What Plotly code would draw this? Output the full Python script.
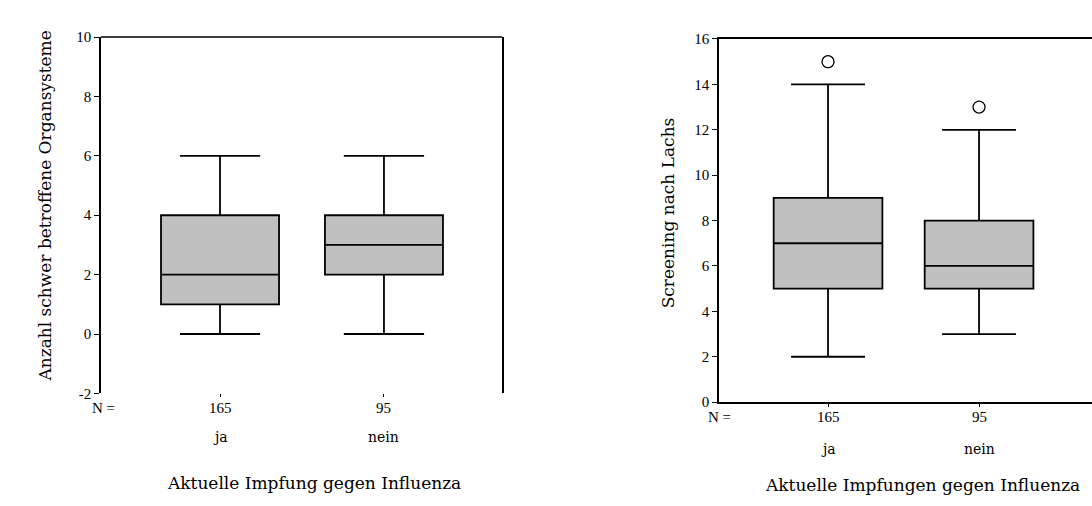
import plotly.graph_objects as go

W, H = 1092, 506

# ---- data ----
categories = ["ja", "nein"]
n_counts = [165, 95]

# left chart: Anzahl schwer betroffene Organsysteme
left_low = [0, 0]
left_q1 = [1, 2]
left_median = [2, 3]
left_q3 = [4, 4]
left_high = [6, 6]

# right chart: Screening nach Lachs
right_low = [2, 3]
right_q1 = [5, 5]
right_median = [7, 6]
right_q3 = [9, 8]
right_high = [14, 12]
right_outlier_cat = ["ja", "nein"]
right_outlier_val = [15, 13]

left_yticks = [-2, 0, 2, 4, 6, 8, 10]
right_yticks = [0, 2, 4, 6, 8, 10, 12, 14, 16]

SERIF_NUM = "Liberation Serif"
SERIF_TXT = "DejaVu Serif"


def px(x):
    return x / W


def py(y):
    return 1 - y / H


fig = go.Figure()

box_style = dict(fillcolor="#c0c0c0", line=dict(color="black", width=1.8),
                 width=0.72, whiskerwidth=0.68, boxpoints=False,
                 showlegend=False, hoverinfo="skip")

fig.add_trace(go.Box(x=categories, q1=left_q1, median=left_median, q3=left_q3,
                     lowerfence=left_low, upperfence=left_high,
                     xaxis="x", yaxis="y", **box_style))
fig.add_trace(go.Box(x=categories, q1=right_q1, median=right_median, q3=right_q3,
                     lowerfence=right_low, upperfence=right_high,
                     xaxis="x2", yaxis="y2", **box_style))
fig.add_trace(go.Scatter(x=right_outlier_cat, y=right_outlier_val, mode="markers",
                         marker=dict(symbol="circle-open", size=12, color="black",
                                     line=dict(width=1.3, color="black")),
                         xaxis="x2", yaxis="y2", showlegend=False, hoverinfo="skip"))

tickfont = dict(family=SERIF_NUM, size=15, color="black")

fig.update_layout(
    width=W, height=H, margin=dict(l=0, r=0, t=0, b=0),
    paper_bgcolor="white", plot_bgcolor="white",
    showlegend=False,
    xaxis=dict(domain=[px(101), px(502)], type="category", categoryorder="array",
               categoryarray=categories, range=[-0.726, 1.72],
               showline=False, showgrid=False, zeroline=False,
               ticks="outside", ticklen=3, tickcolor="black", tickwidth=1,
               showticklabels=False, anchor="y"),
    yaxis=dict(domain=[py(398), py(30)], range=[-2, 10], tickvals=left_yticks,
               ticktext=[str(v) for v in left_yticks],
               showline=True, mirror=True, linecolor="black", linewidth=1.5,
               showgrid=False, zeroline=False, ticks="outside", ticklen=5,
               tickcolor="black", tickwidth=1, tickfont=tickfont, anchor="x"),
    xaxis2=dict(domain=[px(719), 1.0], type="category", categoryorder="array",
                categoryarray=categories, range=[-0.722, 1.748],
                showline=True, mirror=True, linecolor="black", linewidth=1.5,
                showgrid=False, zeroline=False,
                ticks="outside", ticklen=3, tickcolor="black", tickwidth=1,
                showticklabels=False, anchor="y2"),
    yaxis2=dict(domain=[py(407), py(32)], range=[0, 16], tickvals=right_yticks,
                ticktext=[str(v) for v in right_yticks],
                showline=True, mirror=False, linecolor="black", linewidth=1.5,
                showgrid=False, zeroline=False, ticks="outside", ticklen=5,
                tickcolor="black", tickwidth=1, tickfont=tickfont, anchor="x2"),
)

# top frame line for left chart (no bottom line there)
fig.add_shape(type="line", xref="x domain", yref="y domain", x0=0, x1=1, y0=1, y1=1,
              line=dict(color="black", width=1.5))

ann = []
numfont = dict(family=SERIF_NUM, size=15, color="black")
catfont = dict(family=SERIF_TXT, size=14, color="black")
titlefont = dict(family=SERIF_TXT, size=17, color="black")

# left chart labels
ann.append(dict(text="N =", x=px(103), y=py(413), xref="paper", yref="paper",
                showarrow=False, font=numfont, xanchor="center", yanchor="middle"))
for c, n in zip(categories, n_counts):
    ann.append(dict(text=str(n), x=c, xref="x", y=py(413), yref="paper",
                    showarrow=False, font=numfont, xanchor="center", yanchor="middle"))
    ann.append(dict(text=c, x=c, xref="x", y=py(443), yref="paper",
                    showarrow=False, font=catfont, xanchor="center", yanchor="middle"))
ann.append(dict(text="Aktuelle Impfung gegen Influenza", x=px(314), y=py(490),
                xref="paper", yref="paper", showarrow=False, font=titlefont,
                xanchor="center", yanchor="middle"))
ann.append(dict(text="Anzahl schwer betroffene Organsysteme", x=px(45), y=py(205),
                xref="paper", yref="paper", showarrow=False, font=titlefont,
                textangle=-90, xanchor="center", yanchor="middle"))

# right chart labels
ann.append(dict(text="N =", x=px(719), y=py(422), xref="paper", yref="paper",
                showarrow=False, font=numfont, xanchor="center", yanchor="middle"))
for c, n in zip(categories, n_counts):
    ann.append(dict(text=str(n), x=c, xref="x2", y=py(422), yref="paper",
                    showarrow=False, font=numfont, xanchor="center", yanchor="middle"))
    ann.append(dict(text=c, x=c, xref="x2", y=py(455), yref="paper",
                    showarrow=False, font=catfont, xanchor="center", yanchor="middle"))
ann.append(dict(text="Aktuelle Impfungen gegen Influenza", x=px(922), y=py(505),
                xref="paper", yref="paper", showarrow=False, font=titlefont,
                xanchor="center", yanchor="bottom"))
ann.append(dict(text="Screening nach Lachs", x=px(668), y=py(212),
                xref="paper", yref="paper", showarrow=False, font=titlefont,
                textangle=-90, xanchor="center", yanchor="middle"))

fig.update_layout(annotations=ann)

fig.write_html("out.html", config={"displayModeBar": False},
               post_script="document.body.style.margin='0';document.body.style.overflow='hidden';")
